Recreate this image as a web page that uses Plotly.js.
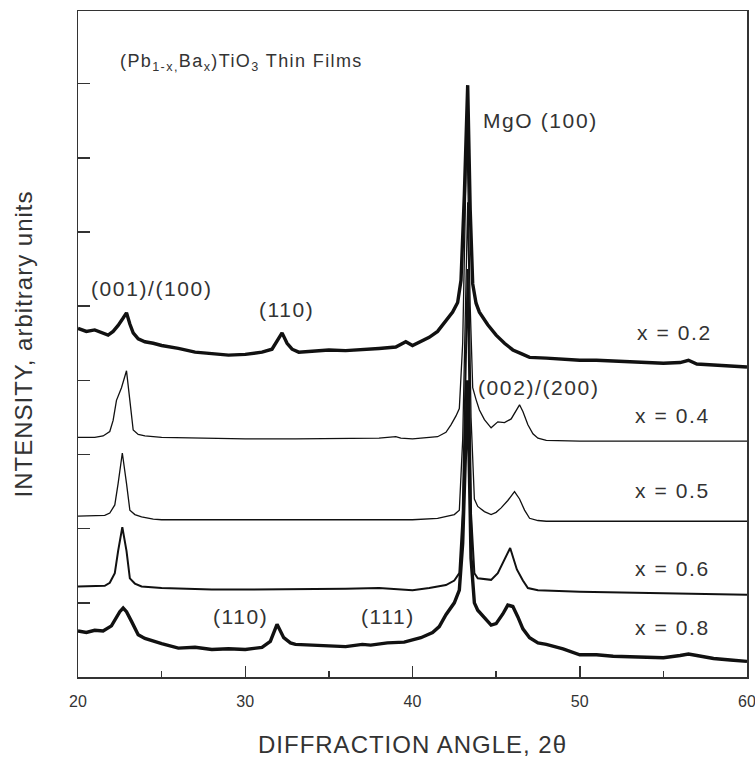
<!DOCTYPE html>
<html>
<head>
<meta charset="utf-8">
<script src="https://cdn.plot.ly/plotly-3.0.1.min.js"></script>
<style>html,body{margin:0;padding:0;background:#fff;}#chart{width:755px;height:758px;}</style>
</head>
<body>
<div id="chart"></div>
<script>
// 2θ (deg) and intensity (arbitrary units, stacked offsets)
var x02_t = [20.0,20.5,21.0,21.5,21.8,22.1,22.4,22.7,22.9,23.1,23.3,23.6,24.0,24.5,25.0,26.0,27.0,28.0,29.0,30.0,31.0,31.6,31.9,32.2,32.5,32.8,33.2,34.0,35.0,36.0,37.0,38.0,39.0,39.6,40.0,40.5,41.0,41.5,42.0,42.4,42.7,42.9,43.1,43.3,43.45,43.6,43.8,44.0,44.5,45.0,45.5,46.0,46.5,47.0,48.0,49.0,50.0,51.0,52.0,53.0,54.0,55.0,56.0,56.5,57.0,58.0,59.0,60.0];
var x02_i = [4.70,4.66,4.68,4.63,4.61,4.66,4.74,4.84,4.91,4.76,4.64,4.56,4.52,4.50,4.47,4.43,4.38,4.36,4.34,4.35,4.38,4.42,4.52,4.64,4.50,4.42,4.38,4.39,4.41,4.40,4.41,4.43,4.45,4.52,4.47,4.52,4.58,4.66,4.81,4.92,5.05,5.35,6.50,7.98,6.30,5.30,5.04,4.92,4.75,4.61,4.50,4.41,4.36,4.31,4.30,4.28,4.27,4.27,4.26,4.25,4.25,4.23,4.24,4.27,4.22,4.21,4.19,4.18];

var x04_t = [20.0,21.0,21.5,21.9,22.1,22.3,22.6,22.9,23.1,23.3,23.6,24.0,25.0,27.0,30.0,33.0,36.0,38.0,39.0,39.3,40.0,41.0,41.5,42.0,42.3,42.6,42.8,43.0,43.25,43.45,43.6,43.8,44.0,44.3,44.7,45.1,45.5,45.9,46.2,46.4,46.6,46.9,47.2,47.5,48.0,50.0,55.0,60.0];
var x04_i = [3.23,3.23,3.25,3.31,3.46,3.73,3.90,4.13,3.73,3.33,3.27,3.25,3.23,3.22,3.21,3.21,3.21,3.22,3.24,3.22,3.21,3.23,3.24,3.30,3.40,3.52,3.62,4.50,7.40,5.00,3.90,3.74,3.60,3.47,3.36,3.44,3.43,3.48,3.60,3.67,3.58,3.40,3.28,3.22,3.19,3.18,3.18,3.18];

var x05_t = [20.0,21.0,21.6,21.9,22.2,22.4,22.65,22.9,23.1,23.4,23.8,24.5,25.0,30.0,35.0,40.0,41.5,42.5,42.8,43.0,43.3,43.5,43.7,43.9,44.3,44.7,45.0,45.3,45.7,46.1,46.4,46.7,47.0,47.5,48.0,55.0,60.0];
var x05_i = [2.17,2.17,2.18,2.21,2.32,2.61,3.02,2.61,2.25,2.19,2.16,2.13,2.12,2.12,2.12,2.12,2.14,2.19,2.25,3.20,6.40,3.50,2.40,2.30,2.23,2.19,2.22,2.28,2.38,2.50,2.40,2.25,2.14,2.11,2.10,2.10,2.10];

var x06_t = [20.0,21.0,21.6,21.9,22.2,22.4,22.65,22.9,23.1,23.4,23.8,25.0,28.0,30.0,33.0,36.0,38.0,40.0,41.0,42.0,42.5,42.8,43.0,43.3,43.5,43.7,43.9,44.3,44.7,45.1,45.4,45.84,46.24,46.6,46.9,47.5,50.0,55.0,60.0];
var x06_i = [1.22,1.22,1.23,1.27,1.40,1.70,2.02,1.70,1.33,1.26,1.22,1.20,1.18,1.18,1.18,1.19,1.20,1.17,1.20,1.24,1.30,1.40,2.20,5.50,2.20,1.40,1.33,1.32,1.31,1.40,1.53,1.74,1.45,1.30,1.20,1.17,1.15,1.13,1.11];

var x08_t = [20.0,20.5,21.0,21.5,22.0,22.3,22.5,22.7,22.9,23.2,23.6,24.0,24.5,25.0,26.0,27.0,28.0,29.0,30.0,31.0,31.5,31.9,32.3,32.7,33.0,34.0,35.0,36.0,37.0,37.5,38.5,39.5,40.5,41.2,41.6,42.0,42.5,42.8,43.0,43.3,43.5,43.7,43.9,44.3,44.7,45.0,45.4,45.7,46.0,46.3,46.6,47.0,47.5,48.0,49.0,50.0,51.0,52.0,53.0,54.0,55.0,56.0,56.5,57.0,58.0,59.0,60.0];
var x08_i = [0.62,0.60,0.63,0.62,0.69,0.80,0.88,0.93,0.88,0.75,0.57,0.52,0.48,0.45,0.39,0.40,0.37,0.38,0.37,0.40,0.48,0.71,0.53,0.46,0.44,0.43,0.42,0.41,0.44,0.43,0.46,0.47,0.53,0.60,0.68,0.84,1.00,1.17,1.80,4.00,1.60,1.00,0.90,0.80,0.70,0.72,0.85,0.97,0.95,0.81,0.65,0.53,0.46,0.44,0.38,0.30,0.30,0.28,0.27,0.26,0.26,0.29,0.31,0.29,0.25,0.23,0.21];

var xTickVals = [20,30,40,50,60];
var xTickText = ["20","30","40","50","60"];

var fnt = "Liberation Sans, Arial, Helvetica, sans-serif";
function sp(s, ls){ return '<span style="letter-spacing:' + ls + 'px">' + s + '</span>'; }

var traces = [
  {x: x02_t, y: x02_i, name: "x = 0.2", w: 3.4},
  {x: x04_t, y: x04_i, name: "x = 0.4", w: 1.3},
  {x: x05_t, y: x05_i, name: "x = 0.5", w: 1.3},
  {x: x06_t, y: x06_i, name: "x = 0.6", w: 2.0},
  {x: x08_t, y: x08_i, name: "x = 0.8", w: 3.4}
].map(function(s){
  return {x: s.x, y: s.y, name: s.name, type: "scatter", mode: "lines",
          line: {color: "#111", width: s.w}, hoverinfo: "skip"};
});

function ann(txt, x, y, xa, size){
  return {text: sp(txt, 1.6), x: x, y: y, xref: "x", yref: "y", xanchor: xa || "center", yanchor: "middle",
          showarrow: false, font: {family: fnt, size: size || 21, color: "#333"}};
}

var annotations = [
  {text: sp("(Pb<sub>1-x,</sub>Ba<sub>x</sub>)TiO<sub>3</sub> Thin Films", 1.4), x: 22.39, y: 8.29, xref: "x", yref: "y",
   xanchor: "left", yanchor: "middle", showarrow: false, font: {family: fnt, size: 18, color: "#333"}},
  ann("(001)/(100)", 24.37, 5.24),
  ann("(110)", 32.44, 4.95),
  ann("MgO (100)", 44.10, 7.51, "left"),
  ann("x = 0.2", 53.31, 4.64, "left"),
  ann("(002)/(200)", 43.80, 3.91, "left"),
  ann("x = 0.4", 53.20, 3.52, "left"),
  ann("x = 0.5", 53.20, 2.52, "left"),
  ann("x = 0.6", 53.20, 1.46, "left"),
  ann("x = 0.8", 53.20, 0.67, "left"),
  ann("(110)", 29.69, 0.81),
  ann("(111)", 38.54, 0.81)
];

var layout = {
  width: 755, height: 758,
  margin: {l: 78, r: 8, t: 11, b: 81},
  paper_bgcolor: "#fff", plot_bgcolor: "#fff",
  showlegend: false,
  xaxis: {
    range: [20, 60], tickmode: "array", tickvals: xTickVals, ticktext: xTickText,
    ticks: "inside", ticklen: 11, tickwidth: 1.5, tickcolor: "#333",
    minor: {dtick: 5, tick0: 20, ticks: "inside", ticklen: 6, tickwidth: 1.3, tickcolor: "#333", showgrid: false},
    showline: true, linecolor: "#333", linewidth: 1.5, mirror: true,
    showgrid: false, zeroline: false,
    tickfont: {family: fnt, size: 16, color: "#333"},
    ticklabelstandoff: 9,
    ticklabeloverflow: "allow",
    title: {text: sp("DIFFRACTION ANGLE, 2θ", 1), font: {family: fnt, size: 24, color: "#333"}, standoff: 27}
  },
  yaxis: {
    range: [0, 8.98], dtick: 1, tick0: 0,
    ticks: "inside", ticklen: 12, tickwidth: 1.5, tickcolor: "#333",
    showticklabels: false,
    showline: true, linecolor: "#333", linewidth: 1.5, mirror: true,
    showgrid: false, zeroline: false,
    title: {text: sp("INTENSITY, arbitrary units", 1), font: {family: fnt, size: 24, color: "#333"}, standoff: 37}
  },
  annotations: annotations
};

Plotly.newPlot("chart", traces, layout, {staticPlot: true, displayModeBar: false});
</script>
</body>
</html>
